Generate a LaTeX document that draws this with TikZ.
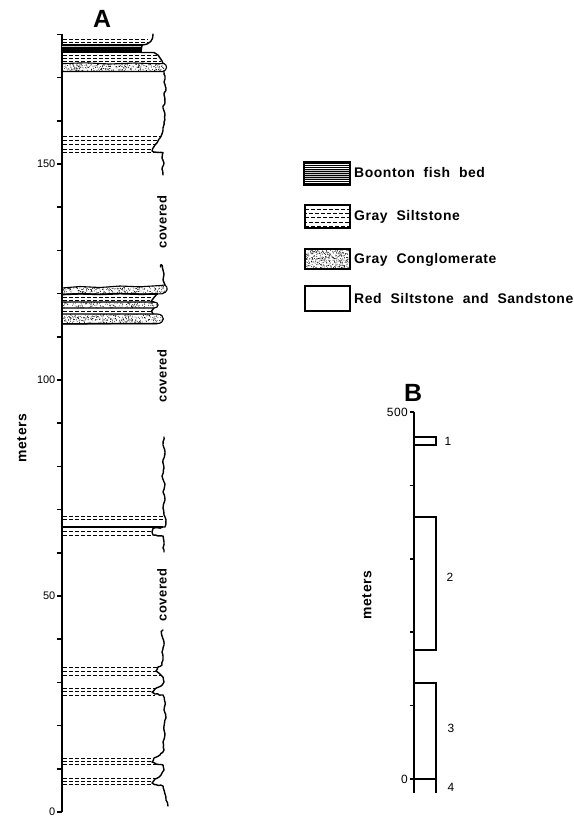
\documentclass[tikz,border=0pt]{standalone}
\usepackage{fontspec}
\setmainfont{Liberation Sans}
\newfontfamily\lblf{Liberation Sans}[LetterSpace=4,WordSpace=2]
\usetikzlibrary{decorations.pathmorphing}
\newcommand\stip[5]{\foreach \k in {1,...,#5}{\fill ({#1+rnd*#3},{#2+rnd*#4}) circle[radius=0.45bp];}}
\begin{document}
\begin{tikzpicture}[x=1bp,y=-1bp,
  axisline/.style={line width=1.6bp},
  edge/.style={line width=1.4bp, line join=round, line cap=round},
  rough/.style={edge, decorate, decoration={random steps, segment length=2.5bp, amplitude=0.6bp}},
  bedline/.style={line width=1.1bp, line join=round},
  silt/.style={line width=0.7bp, dash pattern=on 4bp off 2bp},
  num/.style={font=\fontsize{11}{12}\selectfont, inner sep=0pt},
  numb/.style={font=\lblf\fontsize{12}{13}\selectfont, inner sep=0pt},
  lbl/.style={font=\lblf\bfseries\fontsize{14}{16}\selectfont, inner sep=0pt},
  cov/.style={font=\lblf\bfseries\fontsize{13}{15}\selectfont, inner sep=0pt, rotate=90},
  ttl/.style={font=\bfseries\fontsize{25}{28}\selectfont, inner sep=0pt},
  box/.style={line width=1.1bp}
]
\useasboundingbox (0,0) rectangle (574,819);
\pgfmathsetseed{7}

% ================= Column A =================
\coordinate (a0) at (62,812);
\coordinate (a180) at (62,34.4);
\draw[axisline] (a180) -- (a0);
\foreach \m in {0,10,...,180} \draw[axisline] (57,{812-4.32*\m}) -- (62,{812-4.32*\m});
\node[num, anchor=east] (l150) at (55.5,{812-4.32*150}) {150};
\node[num, anchor=east] (l100) at (55.5,{812-4.32*100}) {100};
\node[num, anchor=east] (l50) at (55.5,{812-4.32*50}) {50};
\node[num, anchor=east] (l0) at (55.5,812) {0};
\node[ttl] (tA) at (102,19) {A};
\node[lbl, rotate=90] (mA) at (22,438) {meters};

% top siltstone
\foreach \y in {39,42.5} \draw[silt] (63,\y) -- (148,\y);
% fish bed
\fill[gray!45] (62,45) rectangle (141,52.5);
\foreach \y in {45.6,46.8,48,49.2,50.4,51.6,52.5} \draw[line width=0.5bp] (62,\y) -- (141,\y);
\draw[bedline] (62,45) -- (143,45);
\draw[edge] (153,34) .. controls (153.5,40) and (150,44.5) .. (142,45) -- (141,52.5) -- (154,52.5) -- (158,55) -- (160,58) -- (162,61) -- (163,63.5);
\foreach \y/\e in {55.5/157, 58.5/159, 61.3/161} \draw[silt] (63,\y) -- (\e,\y);
% conglomerate 1
\def\cgA{(62,63.6) -- (85,62.8) -- (110,64) -- (135,63) -- (158,63.8) -- (164,63.5) .. controls (167.5,65) and (167.5,70) .. (163,71.5) -- (62,71.5) -- cycle}
\begin{scope}\clip \cgA; \stip{62}{62}{106}{10}{360}\end{scope}
\draw[bedline] \cgA;
\draw[line width=1.6bp] (62,71.5) -- (163,71.5);
% profile 1
\draw[rough] (164,71.5) -- (165,76) -- (164,82) -- (166,88) -- (164,95) -- (165,102) -- (163,108) -- (165,115) -- (164,122) -- (163,128) -- (162,134) -- (160,138) -- (157,143) -- (153,148) -- (152,151) -- (156,152.2) -- (163,152.5) -- (162,158) -- (164,163) -- (162,169) -- (163,175);
\foreach \y/\e in {136/161, 140/159, 144.5/156, 149/152.5, 152.4/157} \draw[silt] (63,\y) -- (\e,\y);
\node[cov] (cov1) at (162,222) {covered};

% unit 2
\draw[edge] (160.5,267) .. controls (159.5,264) and (163,263.5) .. (162.5,268) -- (164,274) -- (163,280) -- (165,285);
\def\cgB{(62,288) -- (80,286.5) -- (100,287.5) -- (120,286) -- (140,286.8) -- (160,285.5) -- (165,285) .. controls (168.5,287) and (168,292.5) .. (162,293.8) -- (140,294.2) -- (120,293.6) -- (100,294.4) -- (80,293.8) -- (62,294.5) -- cycle}
\begin{scope}\clip \cgB; \stip{62}{284}{107}{11}{400}\end{scope}
\draw[bedline] \cgB;
\draw[line width=1.7bp] (62,294.5) -- (80,293.8) -- (100,294.4) -- (120,293.6) -- (140,294.2) -- (158,294);
\draw[silt] (63,297.5) -- (152,297.5);
\draw[silt] (63,300.2) -- (150,300.2);
\draw[edge] (157,294) -- (154,297.5) -- (151,301.5) -- (154,302);
\def\cgC{(62,302) -- (154,302) .. controls (159.5,302) and (159.5,308) .. (154,308) -- (62,308) -- cycle}
\begin{scope}\clip \cgC; \stip{62}{301}{98}{8}{220}\end{scope}
\draw[bedline] \cgC;
\draw[silt] (63,311) -- (151,311);
\draw[edge] (154,308) -- (151.5,311) -- (153,314);
\def\cgD{(62,314) -- (157,314) .. controls (165.5,314) and (165.5,323.6) .. (157,323.6) -- (62,323.8) -- cycle}
\begin{scope}\clip \cgD; \stip{62}{313}{104}{11}{370}\end{scope}
\draw[bedline] \cgD;
\draw[line width=1.5bp] (62,323.8) -- (157,323.6);
\node[cov] (cov2) at (162,376) {covered};

% unit 3
\draw[rough] (164,437) -- (163,445) -- (165,452) -- (163,460) -- (164,468) -- (162,476) -- (165,484) -- (163,492) -- (165,500) -- (163,508) -- (164,515) -- (166,520) -- (166,524) -- (165,527) -- (153,528.5) -- (152,532) -- (153,535) -- (163,536) -- (164,542) -- (163,548) -- (164,552);
\draw[silt] (63,516) -- (163,516);
\draw[silt] (63,519.5) -- (164,519.5);
\draw[line width=1.4bp] (62,527) -- (163,527);
\draw[silt] (63,531.5) -- (151,531.5);
\draw[silt] (63,535) -- (152,535);
\node[cov] (cov3) at (162,595) {covered};

% unit 4
\draw[rough] (163,630) .. controls (161,632) and (162,635) .. (163,638) -- (164,645) -- (162,652) -- (163,660) -- (162,665) -- (158,667) -- (156,671) -- (160,674) -- (163,677) -- (164,682) -- (161,686) -- (155,689) -- (152,692) -- (155,694) -- (163,695) -- (165,702) -- (164,710) -- (166,718) -- (164,726) -- (165,734) -- (163,742) -- (164,750) -- (160,755) -- (154,758) -- (152,762) -- (156,764) -- (163,765) -- (164,770) -- (161,775) -- (155,779) -- (152,783) -- (156,784.5) -- (163,786) -- (165,794) -- (166,800) -- (168,806);
\foreach \y/\e in {667/158, 671/156, 675/161, 688/155, 691.5/152, 695/155, 758/154, 761/152, 764/156, 778/156, 781/153, 784/153} \draw[silt] (63,\y) -- (\e,\y);

% ================= Legend =================
\fill[gray!45] (304,169) rectangle (350,179);
\foreach \y in {163.5,165.5,...,184} \draw[line width=0.6bp] (304,\y) -- (350,\y);
\draw[box] (304,162) rectangle (350,185);
\node[lbl, anchor=west] (kfish) at (354,173) {Boonton fish bed};

\foreach \y/\o in {209/0, 213/2, 217.5/0, 222/2, 226/0} \draw[silt, dash phase=\o bp] (305,\y) -- (350,\y);
\draw[box] (305,205) rectangle (350,228);
\node[lbl, anchor=west] (ksilt) at (354,216.5) {Gray Siltstone};

\begin{scope}\clip (305,249) rectangle (350,269); \stip{305}{249}{45}{20}{360}\end{scope}
\draw[box] (305,249) rectangle (350,269);
\node[lbl, anchor=west] (kcong) at (354,260) {Gray Conglomerate};

\draw[box] (305,286) rectangle (350,311);
\node[lbl, anchor=west] (kred) at (354,299) {Red Siltstone and Sandstone};

% ================= Column B =================
\node[ttl] (tB) at (413,393) {B};
\coordinate (b500) at (414,412);
\coordinate (bbot) at (414,793);
\draw[axisline] (b500) -- (bbot);
\foreach \m in {0,100,...,500} \draw[axisline] (410,{779-0.734*\m}) -- (414,{779-0.734*\m});
\node[numb, anchor=east] (l500) at (408,412) {500};
\node[numb, anchor=east] (lb0) at (408,779) {0};
\node[lbl, rotate=90] (mB) at (367,595) {meters};
\draw[box] (414,437) rectangle (436,445);
\draw[box] (414,517) -- (436,517) -- (436,650) -- (414,650);
\draw[box] (414,683) -- (436,683) -- (436,793);
\draw[box] (414,779) -- (436,779);
\node[numb] (n1) at (448,441) {1};
\node[numb] (n2) at (450,577) {2};
\node[numb] (n3) at (451,728) {3};
\node[numb] (n4) at (451,787) {4};
\end{tikzpicture}
\end{document}
